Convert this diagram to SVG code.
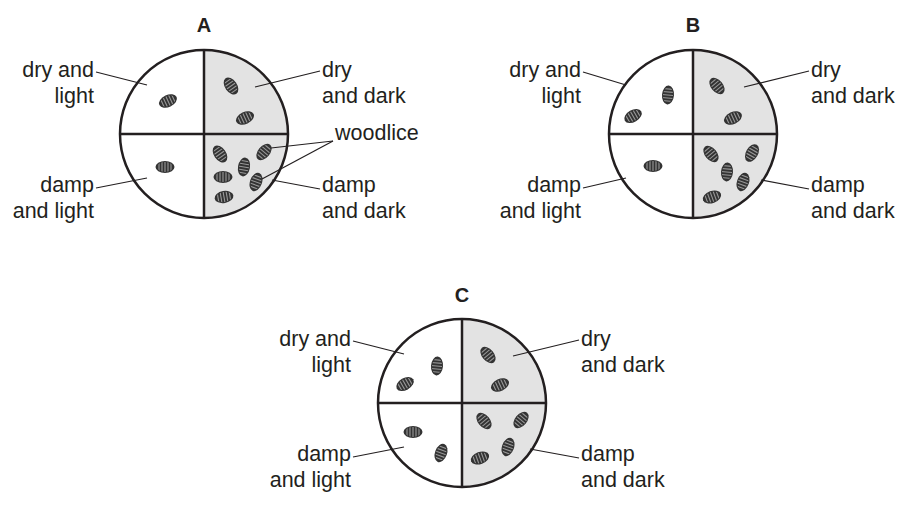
<svg xmlns="http://www.w3.org/2000/svg" width="906" height="506" viewBox="0 0 906 506">
<style>
text{font-family:"Liberation Sans",Arial,sans-serif;font-size:21.5px;fill:#231f20}
.t{font-weight:bold;text-anchor:middle;font-size:20px}
.r{text-anchor:end}
.ln{stroke:#231f20;stroke-width:1.2;fill:none}
.dish{stroke:#231f20;stroke-width:2.5}
</style>
<defs>
<clipPath id="ec"><ellipse cx="0" cy="0" rx="8" ry="5"/></clipPath>
<symbol id="w" overflow="visible">
<ellipse cx="0" cy="0" rx="9.5" ry="6" fill="#333"/>
<g clip-path="url(#ec)" stroke="#999" stroke-width="1.1">
<line x1="-6" y1="-6" x2="-6" y2="6"/><line x1="-3" y1="-6" x2="-3" y2="6"/><line x1="0" y1="-6" x2="0" y2="6"/><line x1="3" y1="-6" x2="3" y2="6"/><line x1="6" y1="-6" x2="6" y2="6"/>
</g>
</symbol>
<g id="dishbase">
<path d="M0,0 V-84 A84,84 0 0 1 84,0 V0 H0Z M0,0 V84 A84,84 0 0 0 84,0Z" fill="#e3e3e3"/>
<circle r="84" fill="none" class="dish"/>
<line x1="-84" y1="0" x2="84" y2="0" class="dish"/>
<line x1="0" y1="-84" x2="0" y2="84" class="dish"/>
</g>
</defs>
<g id="dishA">
<text x="204" y="32" class="t">A</text>
<use href="#dishbase" x="204" y="134"/>
<use href="#w" transform="translate(168,101) rotate(-25)"/>
<use href="#w" transform="translate(231,86) rotate(55)"/>
<use href="#w" transform="translate(245,118) rotate(-25)"/>
<use href="#w" transform="translate(165,167)"/>
<use href="#w" transform="translate(220,154) rotate(55)"/>
<use href="#w" transform="translate(264,152) rotate(-50)"/>
<use href="#w" transform="translate(244,167) rotate(-80)"/>
<use href="#w" transform="translate(223,177)"/>
<use href="#w" transform="translate(256,182) rotate(-70)"/>
<use href="#w" transform="translate(224,197) rotate(-10)"/>
<text x="94" y="77" class="r">dry and</text><text x="94" y="103" class="r">light</text>
<text x="322" y="77">dry</text><text x="322" y="103">and dark</text>
<text x="335" y="140">woodlice</text>
<text x="94" y="192" class="r">damp</text><text x="94" y="218" class="r">and light</text>
<text x="322" y="192">damp</text><text x="322" y="218">and dark</text>
</g>
<g id="dishB">
<text x="693" y="32" class="t">B</text>
<use href="#dishbase" x="693" y="134"/>
<use href="#w" transform="translate(668,95) rotate(-85)"/>
<use href="#w" transform="translate(633,116) rotate(-30)"/>
<use href="#w" transform="translate(717,86) rotate(50)"/>
<use href="#w" transform="translate(733,118) rotate(-25)"/>
<use href="#w" transform="translate(653,166)"/>
<use href="#w" transform="translate(711,154) rotate(50)"/>
<use href="#w" transform="translate(727,172) rotate(-85)"/>
<use href="#w" transform="translate(752,153) rotate(-60)"/>
<use href="#w" transform="translate(743,182) rotate(-70)"/>
<use href="#w" transform="translate(712,197) rotate(-20)"/>
<text x="581" y="77" class="r">dry and</text><text x="581" y="103" class="r">light</text>
<text x="811" y="77">dry</text><text x="811" y="103">and dark</text>
<text x="581" y="192" class="r">damp</text><text x="581" y="218" class="r">and light</text>
<text x="811" y="192">damp</text><text x="811" y="218">and dark</text>
</g>
<g id="dishC">
<text x="462" y="302" class="t">C</text>
<use href="#dishbase" x="462" y="403"/>
<use href="#w" transform="translate(437,366) rotate(-85)"/>
<use href="#w" transform="translate(405,384) rotate(-30)"/>
<use href="#w" transform="translate(488,355) rotate(50)"/>
<use href="#w" transform="translate(500,385) rotate(-25)"/>
<use href="#w" transform="translate(413,432)"/>
<use href="#w" transform="translate(441,453) rotate(-70)"/>
<use href="#w" transform="translate(484,421) rotate(50)"/>
<use href="#w" transform="translate(521,420) rotate(-50)"/>
<use href="#w" transform="translate(508,447) rotate(-70)"/>
<use href="#w" transform="translate(480,458) rotate(-20)"/>
<text x="351" y="346" class="r">dry and</text><text x="351" y="372" class="r">light</text>
<text x="581" y="346">dry</text><text x="581" y="372">and dark</text>
<text x="351" y="461" class="r">damp</text><text x="351" y="487" class="r">and light</text>
<text x="581" y="461">damp</text><text x="581" y="487">and dark</text>
</g>
<g id="connectors" class="ln">
<line x1="96" y1="72" x2="147" y2="85"/><line x1="255" y1="87" x2="320" y2="71"/>
<line x1="333" y1="141" x2="271" y2="148"/><line x1="333" y1="141" x2="262" y2="179"/>
<line x1="96" y1="188" x2="147" y2="178"/><line x1="272" y1="180" x2="320" y2="189"/>
<line x1="583" y1="72" x2="626" y2="85"/><line x1="744" y1="87" x2="809" y2="71"/>
<line x1="583" y1="188" x2="626" y2="178"/><line x1="761" y1="180" x2="809" y2="189"/>
<line x1="353" y1="341" x2="404" y2="354"/><line x1="513" y1="356" x2="579" y2="340"/>
<line x1="353" y1="457" x2="404" y2="447"/><line x1="530" y1="449" x2="579" y2="458"/>
</g>
</svg>
